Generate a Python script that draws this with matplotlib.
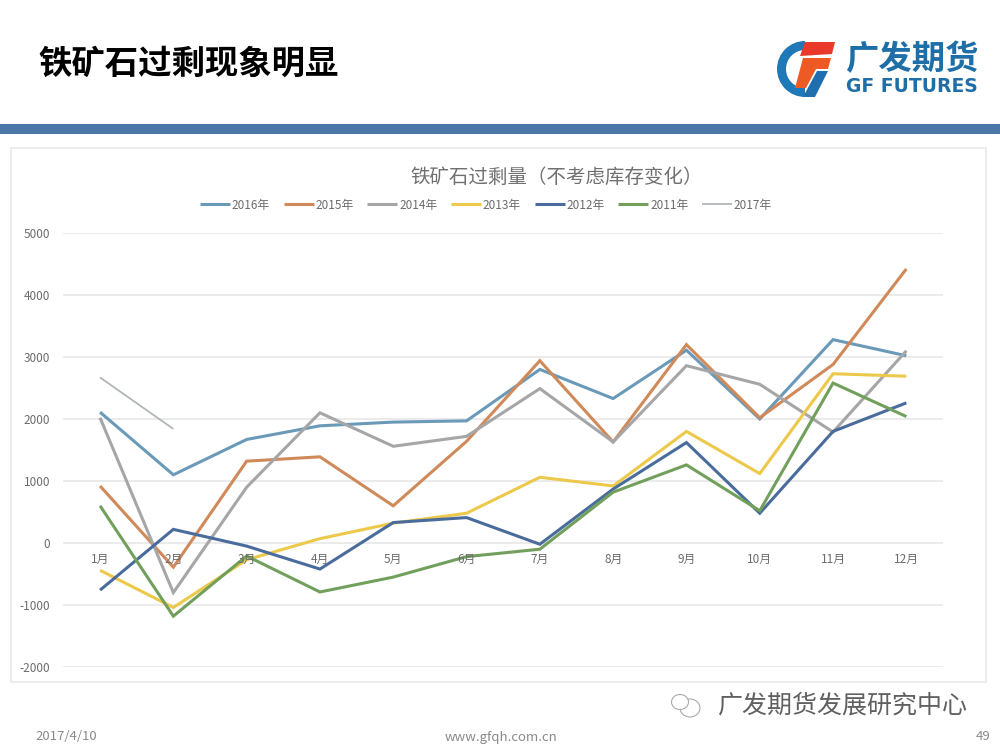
import matplotlib
matplotlib.use("Agg")
import matplotlib.pyplot as plt
from matplotlib.patches import Rectangle, Ellipse, Wedge, Polygon

months = ["1月","2月","3月","4月","5月","6月","7月","8月","9月","10月","11月","12月"]
s2016 = [2110,1100,1670,1890,1950,1970,2800,2330,3110,2000,3280,3020]
s2015 = [920,-390,1320,1390,600,1640,2940,1630,3200,2020,2880,4420]
s2014 = [2020,-800,900,2100,1560,1720,2490,1630,2860,2560,1790,3100]
s2013 = [-440,-1040,-270,70,320,480,1060,920,1800,1120,2730,2690]
s2012 = [-760,220,-50,-420,330,410,-20,870,1620,480,1800,2260]
s2011 = [600,-1180,-210,-790,-550,-220,-100,820,1260,520,2580,2040]
s2017 = [2670,1840]
yticks = [-2000,-1000,0,1000,2000,3000,4000,5000]

plt.rcParams['font.family'] = ['Noto Sans CJK SC', 'DejaVu Sans']
plt.rcParams['axes.unicode_minus'] = False
W, H = 1000, 750
fig = plt.figure(figsize=(10, 7.5), dpi=100, facecolor='white')
fx = lambda x: x / W
fy = lambda y: 1 - y / H

def frect(x0, y0, x1, y1, **kw):
    fig.add_artist(Rectangle((fx(x0), fy(y1)), (x1 - x0) / W, (y1 - y0) / H,
                             transform=fig.transFigure, **kw))

# slide furniture
frect(0, 124, 1000, 133.5, facecolor='#4a76a8', edgecolor='none')
frect(11, 148, 986, 682, facecolor='white', edgecolor='#e8e9ea', linewidth=1.2)

fig.text(fx(38), fy(64), "铁矿石过剩现象明显", fontsize=24, fontweight='bold',
         family=['Noto Sans CJK SC'], color='black', va='center', ha='left')
fig.text(fx(557), fy(177), "铁矿石过剩量（不考虑库存变化）", fontsize=14, color='#707070',
         va='center', ha='center', fontweight='light')
fig.text(fx(35), fy(737), "2017/4/10", fontsize=9.5, color='#8a8a8a', va='center')
fig.text(fx(501), fy(737), "www.gfqh.com.cn", fontsize=9.5, color='#8a8a8a', va='center', ha='center')
fig.text(fx(991), fy(737), "49", fontsize=9.5, color='#8a8a8a', va='center', ha='right')
fig.text(fx(718), fy(706), "广发期货发展研究中心", fontsize=18, color='#606060', va='center', ha='left',
         fontweight='light')

# logo
logo = fig.add_axes([0, 0, 1, 1], zorder=3)
logo.set_xlim(0, W); logo.set_ylim(H, 0); logo.axis('off'); logo.patch.set_alpha(0)
logo.add_patch(Wedge((805, 69), 28, 90, 270, width=9, facecolor='#1f78b8', edgecolor='none'))
logo.add_patch(Polygon([(805, 42), (835, 42), (832, 54), (800, 56)], facecolor='#e8392a', edgecolor='none'))
logo.add_patch(Polygon([(803, 58), (831, 58), (828, 69), (816, 69), (806, 88), (795, 88)],
                       facecolor='#ee5a24', edgecolor='none'))
logo.add_patch(Polygon([(817, 71), (828, 71), (815, 97), (803, 97)], facecolor='#1f6fb0', edgecolor='none'))
logo.text(912, 60, "广发期货", fontsize=24, fontweight='bold', color='#1e6fa8',
          family=['Noto Sans CJK SC'], ha='center', va='center')
logo.text(912, 87, "GF FUTURES", fontsize=13.5, fontweight='bold', color='#1e6fa8',
          family=['DejaVu Sans'], ha='center', va='center')
# watermark icon
logo.add_patch(Ellipse((690, 708), 20, 18, facecolor='white', edgecolor='#aaaaaa', linewidth=0.8))
logo.add_patch(Ellipse((680, 702), 17, 15, facecolor='white', edgecolor='#aaaaaa', linewidth=0.8))

# chart axes: category centres at 100..906 px, gridlines 233..667 px
ax = fig.add_axes([fx(63.4), fy(667), (943 - 63.4) / W, (667 - 233) / H], zorder=2)
ax.patch.set_alpha(0)
ax.set_xlim(-0.5, 11.5)
ax.set_ylim(-2000, 5000)
series = [("2016年", s2016, '#6a9ab8', 2.2), ("2015年", s2015, '#d08a5a', 2.2),
          ("2014年", s2014, '#a6a6a8', 2.2), ("2013年", s2013, '#ecc94a', 2.2),
          ("2012年", s2012, '#4a6c9c', 2.2), ("2011年", s2011, '#72a05c', 2.2),
          ("2017年", s2017, '#b2b6ba', 1.3)]
for name, vals, col, lw in series:
    ax.plot(range(len(vals)), vals, color=col, lw=lw, label=name, solid_joinstyle='miter', solid_capstyle='butt')
ax.set_yticks(yticks)
ax.set_xticks(range(12))
ax.set_xticklabels([])
for i, m in enumerate(months):
    ax.text(i, -270, m, fontsize=8.5, color='#6b6b6b', ha='center', va='center', zorder=5)
ax.tick_params(axis='both', length=0)
ax.tick_params(axis='y', labelsize=8.5, labelcolor='#6b6b6b', pad=9.5)
ax.grid(axis='y', color='#e8e8e8', lw=1.2)
ax.set_axisbelow(True)
for sp in ax.spines.values():
    sp.set_visible(False)
leg = ax.legend(loc='center', bbox_to_anchor=((486 - 63.4) / 879.6, (667 - 205) / 434), ncol=7, frameon=False,
                fontsize=8.5, labelcolor='#6b6b6b', handlelength=2.55, handletextpad=0.15, columnspacing=1.15,
                borderpad=0)
fig.savefig("out.png", dpi=100, facecolor='white')
